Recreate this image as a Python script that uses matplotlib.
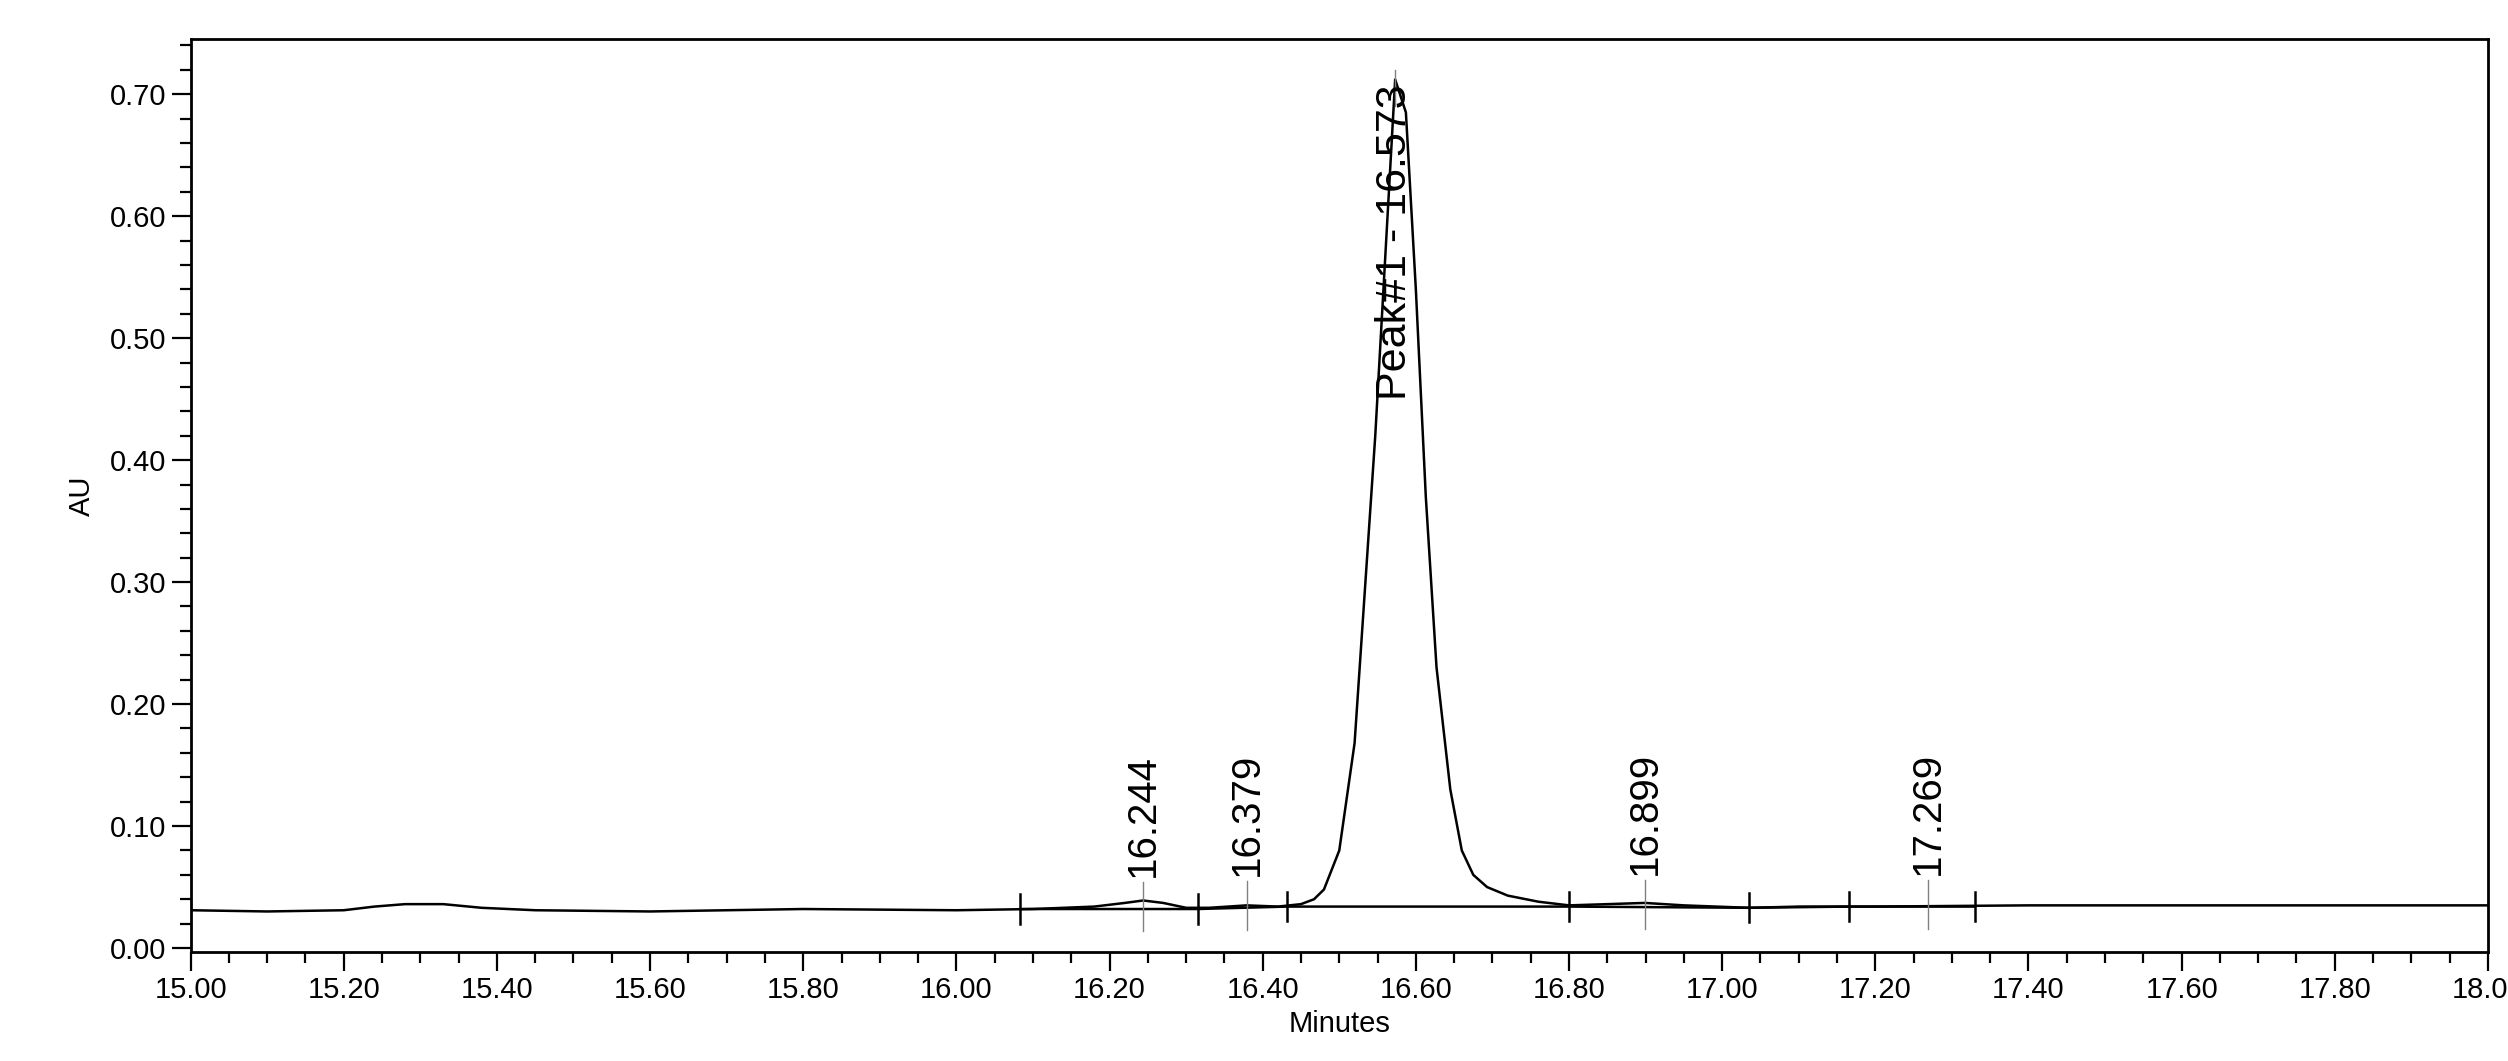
import numpy as np
import matplotlib.pyplot as plt
from matplotlib.ticker import MultipleLocator, FormatStrFormatter

plt.rcParams['font.family'] = ['Liberation Sans', 'DejaVu Sans']

# chromatogram trace (minutes, AU)
time = [15.00, 15.10, 15.20, 15.24, 15.28, 15.33, 15.38, 15.45, 15.60, 15.80,
        16.00, 16.10, 16.18, 16.22, 16.244, 16.27, 16.30, 16.33, 16.379, 16.42,
        16.45, 16.467, 16.48, 16.50, 16.52, 16.547, 16.573, 16.587, 16.60,
        16.613, 16.627, 16.645, 16.66, 16.675, 16.693, 16.72,
        16.76, 16.80, 16.85, 16.899, 16.95, 17.035, 17.10, 17.20, 17.40, 17.60,
        17.80, 18.00]
signal = [0.031, 0.030, 0.031, 0.034, 0.036, 0.036, 0.033, 0.031, 0.030, 0.032,
          0.031, 0.032, 0.034, 0.037, 0.039, 0.037, 0.033, 0.033, 0.035, 0.034,
          0.036, 0.040, 0.048, 0.080, 0.168, 0.420, 0.712, 0.685, 0.540,
          0.370, 0.230, 0.130, 0.080, 0.060, 0.050, 0.043,
          0.038, 0.035, 0.036, 0.037, 0.035, 0.033, 0.034, 0.034, 0.035, 0.035,
          0.035, 0.035]

# integration boundaries (minutes) and baseline levels
bounds = [16.083, 16.315, 16.432, 16.80, 17.035, 17.165, 17.33]
bound_y = [0.032, 0.032, 0.034, 0.034, 0.033, 0.034, 0.034]

peak_times = [16.244, 16.379, 16.899, 17.269]
peak_labels = ['16.244', '16.379', '16.899', '17.269']
main_peak_time = 16.573
main_peak_label = 'Peak#1 - 16.573'

fig = plt.figure(figsize=(25.08, 10.61), dpi=100)
ax = fig.add_axes([0.076, 0.103, 0.916, 0.86])

ax.plot(time, signal, color='black', lw=1.8)
ax.plot(bounds, bound_y, color='black', lw=1.8)

for b, y in zip(bounds, bound_y):
    ax.plot([b, b], [y - 0.012, y + 0.012], color='black', lw=1.8)

for t, lab in zip(peak_times, peak_labels):
    y = np.interp(t, bounds, bound_y)
    ax.plot([t, t], [y - 0.018, y + 0.022], color='gray', lw=1)
    ax.text(t, y + 0.026, lab, rotation=90, ha='center', va='bottom', fontsize=29)

ax.plot([main_peak_time, main_peak_time], [0.69, 0.72], color='gray', lw=1)
ax.text(main_peak_time, 0.708, main_peak_label, rotation=90, ha='center', va='top',
        fontsize=31)

ax.set_xlim(15.0, 18.0)
ax.set_ylim(-0.003, 0.745)
ax.xaxis.set_major_locator(MultipleLocator(0.2))
ax.xaxis.set_minor_locator(MultipleLocator(0.05))
ax.yaxis.set_major_locator(MultipleLocator(0.1))
ax.yaxis.set_minor_locator(MultipleLocator(0.02))
ax.xaxis.set_major_formatter(FormatStrFormatter('%.2f'))
ax.yaxis.set_major_formatter(FormatStrFormatter('%.2f'))
ax.tick_params(which='major', length=14, width=1.6, labelsize=21)
ax.tick_params(which='minor', length=8, width=1.6)
for s in ax.spines.values():
    s.set_linewidth(2)

ax.set_xlabel('Minutes', fontsize=21, labelpad=4)
ax.set_ylabel('AU', fontsize=21, labelpad=10)

fig.savefig('out.png', dpi=100)
